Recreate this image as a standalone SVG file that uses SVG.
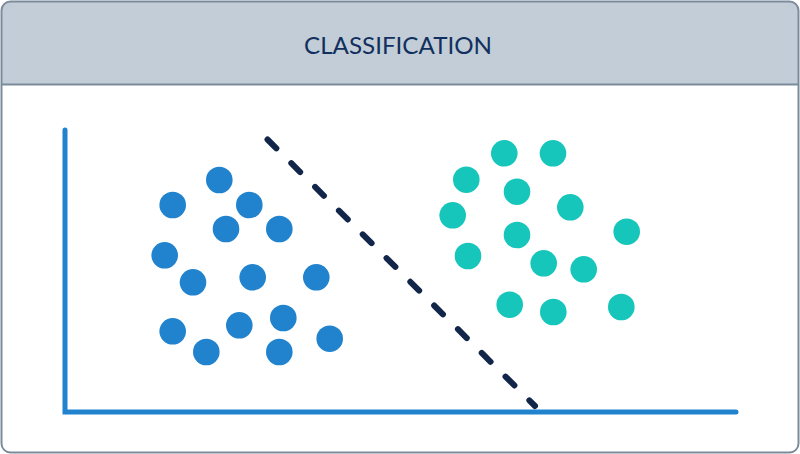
<svg xmlns="http://www.w3.org/2000/svg" width="800" height="454" viewBox="0 0 800 454">
<style>
.b{fill:#2183ce}
.t{fill:#16c6bb}
.ax{stroke:#2183ce;stroke-width:5;stroke-linecap:round;fill:none}
.title{font-family:Lato,"Liberation Sans",sans-serif;font-size:23px;fill:#12305e}
</style>
<defs>
<clipPath id="frame"><rect x="1.5" y="1.5" width="797" height="451" rx="9"/></clipPath>
</defs>
<g id="frame-box">
<rect x="1.5" y="1.5" width="797" height="451" rx="9" fill="#ffffff"/>
<rect x="1.5" y="1.5" width="797" height="83" fill="#c2cdd7" clip-path="url(#frame)"/>
<line x1="1.5" y1="84.5" x2="798.5" y2="84.5" stroke="#7c8b9b" stroke-width="2"/>
<rect x="1.5" y="1.5" width="797" height="451" rx="9" fill="none" stroke="#7c8b9b" stroke-width="2"/>
</g>
<g id="title"><text class="title" x="398" y="54" text-anchor="middle" textLength="188" lengthAdjust="spacingAndGlyphs">CLASSIFICATION</text></g>
<g id="connectors">
<polyline class="ax" points="65,130 65,412 736,412"/>
<line x1="267.5" y1="139.5" x2="535" y2="406" stroke="#12264a" stroke-width="6" stroke-linecap="round" stroke-dasharray="12.5 21.1"/>
</g>
<g id="class-a">
<circle class="b" cx="219.3" cy="180" r="13.3"/>
<circle class="b" cx="172.7" cy="205" r="13.3"/>
<circle class="b" cx="249.3" cy="205" r="13.3"/>
<circle class="b" cx="226" cy="229" r="13.3"/>
<circle class="b" cx="279.3" cy="229" r="13.3"/>
<circle class="b" cx="164.7" cy="255.3" r="13.3"/>
<circle class="b" cx="193" cy="282.3" r="13.3"/>
<circle class="b" cx="252.7" cy="277.3" r="13.3"/>
<circle class="b" cx="316.3" cy="277.3" r="13.3"/>
<circle class="b" cx="172.7" cy="331.3" r="13.3"/>
<circle class="b" cx="239.3" cy="325.3" r="13.3"/>
<circle class="b" cx="283.3" cy="318" r="13.3"/>
<circle class="b" cx="206.3" cy="352" r="13.3"/>
<circle class="b" cx="279.3" cy="352" r="13.3"/>
<circle class="b" cx="329.7" cy="338.7" r="13.3"/>
</g>
<g id="class-b">
<circle class="t" cx="504.3" cy="153.3" r="13.3"/>
<circle class="t" cx="553" cy="153.3" r="13.3"/>
<circle class="t" cx="466.3" cy="179.7" r="13.3"/>
<circle class="t" cx="517" cy="191.7" r="13.3"/>
<circle class="t" cx="570.3" cy="207.3" r="13.3"/>
<circle class="t" cx="452.7" cy="215.3" r="13.3"/>
<circle class="t" cx="517" cy="235" r="13.3"/>
<circle class="t" cx="626.7" cy="231.7" r="13.3"/>
<circle class="t" cx="468" cy="256" r="13.3"/>
<circle class="t" cx="543.7" cy="263.3" r="13.3"/>
<circle class="t" cx="583.7" cy="269.3" r="13.3"/>
<circle class="t" cx="509.7" cy="304.7" r="13.3"/>
<circle class="t" cx="553.3" cy="312" r="13.3"/>
<circle class="t" cx="621.3" cy="307" r="13.3"/>
</g>
</svg>
